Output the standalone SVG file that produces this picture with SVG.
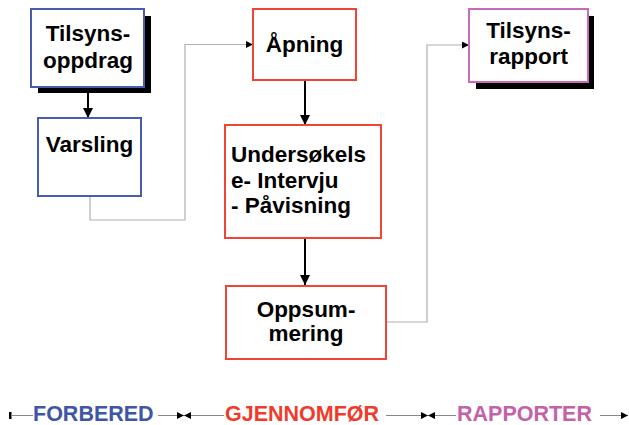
<svg xmlns="http://www.w3.org/2000/svg" width="629" height="425" viewBox="0 0 629 425">
<defs>
<style>
text{font-family:"Liberation Sans",Arial,sans-serif;font-weight:bold;font-size:22.5px;fill:#000}
.box{fill:#fff;stroke-width:2}
.blue{stroke:#4a5cb0}
.red{stroke:#f04535}
.pink{stroke:#c86ab8}
.shadow{fill:#000}
.gray{fill:none;stroke:#b0b0b0;stroke-width:1.2}
.blk{fill:none;stroke:#000;stroke-width:2}
.tl{fill:none;stroke:#888;stroke-width:1}
.lbl{font-size:21.5px}
</style>
<marker id="ah" viewBox="0 0 10 10" refX="10" refY="5" markerWidth="10" markerHeight="10" markerUnits="userSpaceOnUse" orient="auto"><path d="M0,0L10,5L0,10z" fill="#000"/></marker>
<marker id="ahs" viewBox="0 0 10 10" refX="10" refY="5" markerWidth="7" markerHeight="7" markerUnits="userSpaceOnUse" orient="auto"><path d="M0,0L10,5L0,10z" fill="#000"/></marker>
</defs>

<g id="connectors">
<path class="blk" d="M88,88V118" marker-end="url(#ah)"/>
<path class="blk" d="M305,81V125" marker-end="url(#ah)"/>
<path class="blk" d="M305,239V285" marker-end="url(#ah)"/>
<path class="gray" d="M90,197V220H185V44.5H253" marker-end="url(#ahs)"/>
<path class="gray" d="M387,322H427V45H469" marker-end="url(#ahs)"/>
</g>

<g id="n-tilsynsoppdrag">
<rect class="shadow" x="38" y="16" width="113" height="77"/>
<rect class="box blue" x="31" y="9" width="113" height="78"/>
<text x="88" y="41" text-anchor="middle">Tilsyns-</text>
<text x="88" y="68" text-anchor="middle">oppdrag</text>
</g>

<g id="n-varsling">
<rect class="box blue" x="38" y="118" width="103" height="78"/>
<text x="89.5" y="152" text-anchor="middle">Varsling</text>
</g>

<g id="n-apning">
<rect class="box red" x="253" y="9" width="103" height="71"/>
<text x="304.5" y="52" text-anchor="middle">Åpning</text>
</g>

<g id="n-undersokelse">
<rect class="box red" x="225" y="125" width="156" height="113"/>
<text x="231" y="162">Undersøkels</text>
<text x="231" y="188">e- Intervju</text>
<text x="231" y="213">- Påvisning</text>
</g>

<g id="n-oppsummering">
<rect class="box red" x="226" y="286" width="160" height="73"/>
<text x="306" y="317" text-anchor="middle">Oppsum-</text>
<text x="306" y="341" text-anchor="middle">mering</text>
</g>

<g id="n-tilsynsrapport">
<rect class="shadow" x="476" y="16" width="118" height="73"/>
<rect class="box pink" x="469" y="9" width="119" height="73"/>
<text x="528.5" y="38" text-anchor="middle">Tilsyns-</text>
<text x="528.5" y="64" text-anchor="middle">rapport</text>
</g>

<g id="timeline">
<rect x="9" y="412" width="2.5" height="7" fill="#000"/>
<path class="tl" d="M11,415.5H33"/>
<path class="tl" d="M158,415.5H184" marker-end="url(#ahs)"/>
<path class="tl" d="M224,415.5H184" marker-end="url(#ahs)"/>
<path class="tl" d="M386,415.5H428" marker-end="url(#ahs)"/>
<path class="tl" d="M456,415.5H428" marker-end="url(#ahs)"/>
<path class="tl" d="M600,415.5H628" marker-end="url(#ahs)"/>
<text class="lbl" x="33" y="421" style="fill:#3d56a6">FORBERED</text>
<text class="lbl" x="225" y="421" style="fill:#ef3b2c">GJENNOMFØR</text>
<text class="lbl" x="457" y="421" style="fill:#c462a8">RAPPORTER</text>
</g>
</svg>
